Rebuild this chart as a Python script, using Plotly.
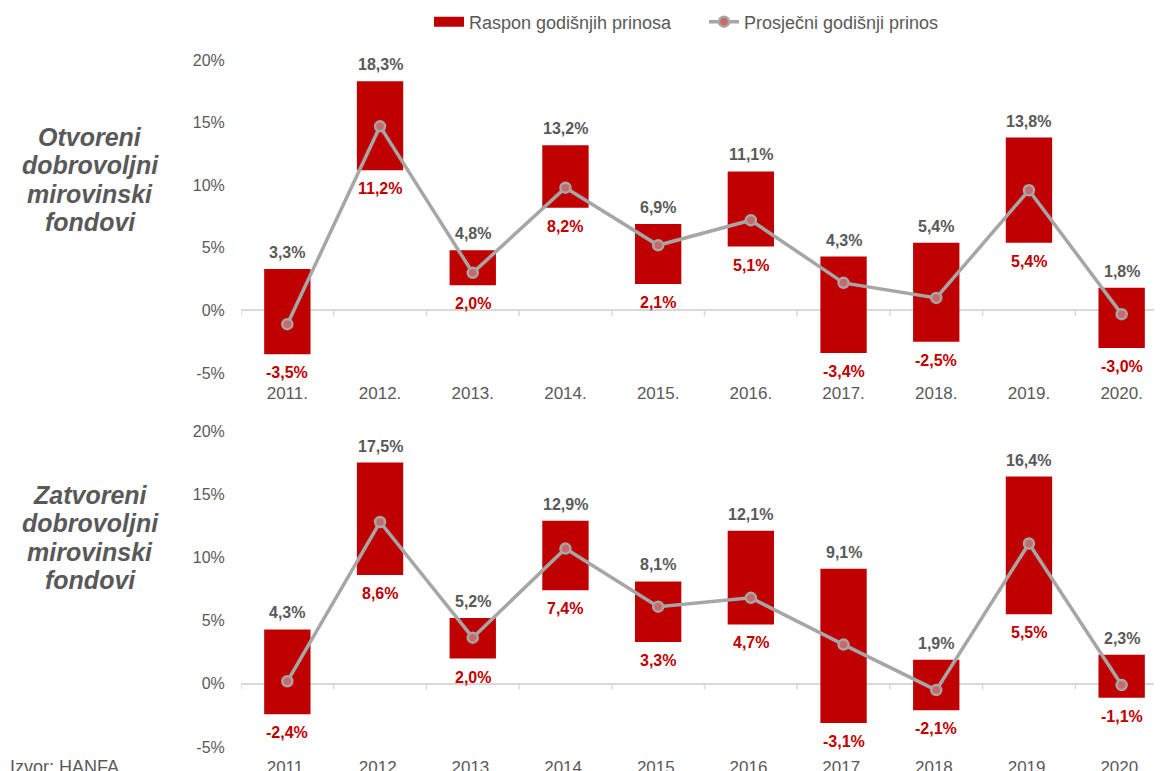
import plotly.graph_objects as go

years = ["2011.", "2012.", "2013.", "2014.", "2015.", "2016.", "2017.", "2018.", "2019.", "2020."]

open_max = [3.3, 18.3, 4.8, 13.2, 6.9, 11.1, 4.3, 5.4, 13.8, 1.8]
open_min = [-3.5, 11.2, 2.0, 8.2, 2.1, 5.1, -3.4, -2.5, 5.4, -3.0]
open_avg = [-1.1, 14.7, 3.0, 9.8, 5.2, 7.2, 2.2, 1.0, 9.6, -0.3]

closed_max = [4.3, 17.5, 5.2, 12.9, 8.1, 12.1, 9.1, 1.9, 16.4, 2.3]
closed_min = [-2.4, 8.6, 2.0, 7.4, 3.3, 4.7, -3.1, -2.1, 5.5, -1.1]
closed_avg = [0.2, 12.8, 3.65, 10.7, 6.1, 6.8, 3.1, -0.5, 11.1, -0.1]

y_ticks = [-5, 0, 5, 10, 15, 20]

panel_titles = [["Otvoreni", "dobrovoljni", "mirovinski", "fondovi"],
                ["Zatvoreni", "dobrovoljni", "mirovinski", "fondovi"]]

legend_bar = "Raspon godišnjih prinosa"
legend_line = "Prosječni godišnji prinos"
source_text = "Izvor: HANFA"

RED = "#C00000"
GRAY_LINE = "#A6A6A6"
TEXT_GRAY = "#595959"
FONT = "Liberation Sans, Arial, sans-serif"

# page body has an 8px margin: the figure starts at (8, 8) in the window
OFF = 8
W, H = 1162 - OFF, 771 - OFF


def px_x(v):
    return (v - OFF) / W


def px_y(v):
    return 1 - (v - OFF) / H


def fmt(v):
    return f"{v:.1f}".replace(".", ",") + "%"


fig = go.Figure()

panels = [
    (open_max, open_min, open_avg, "x", "y"),
    (closed_max, closed_min, closed_avg, "x2", "y2"),
]

# legend-only entries (wide red swatch like the original)
fig.add_trace(go.Scatter(x=[None], y=[None], mode="lines",
                         line=dict(color=RED, width=10), name=legend_bar))
fig.add_trace(go.Scatter(x=[None], y=[None], mode="lines+markers",
                         line=dict(color=GRAY_LINE, width=3.5),
                         marker=dict(symbol="circle", size=10, color="#C86A6A",
                                     line=dict(color=GRAY_LINE, width=2.5)),
                         name=legend_line))

for mx, mn, avg, xa, ya in panels:
    fig.add_trace(go.Bar(
        x=list(range(len(years))), y=[a - b for a, b in zip(mx, mn)], base=mn,
        width=0.5, marker=dict(color=RED, line=dict(width=0)),
        name=legend_bar, showlegend=False, xaxis=xa, yaxis=ya,
    ))
    fig.add_trace(go.Scatter(
        x=list(range(len(years))), y=avg, mode="lines+markers",
        line=dict(color=GRAY_LINE, width=3.5),
        marker=dict(symbol="circle", size=10, color="#C86A6A",
                    line=dict(color=GRAY_LINE, width=2.5)),
        name=legend_line, showlegend=False, xaxis=xa, yaxis=ya,
    ))

annotations = []
shapes = []
for (mx, mn, avg, xa, ya) in panels:
    for i in range(len(years)):
        annotations.append(dict(
            x=i, y=mx[i], xref=xa, yref=ya, text="<b>" + fmt(mx[i]) + "</b>",
            showarrow=False, yanchor="bottom", yshift=6,
            font=dict(family=FONT, size=16, color=TEXT_GRAY)))
        annotations.append(dict(
            x=i, y=mn[i], xref=xa, yref=ya, text="<b>" + fmt(mn[i]) + "</b>",
            showarrow=False, yanchor="top", yshift=-8,
            font=dict(family=FONT, size=16, color=RED)))
    # category boundary tick marks on the zero line
    for i in range(len(years)):
        shapes.append(dict(type="line", xref=xa, yref=ya,
                           x0=i - 0.5, x1=i - 0.5, y0=0, y1=-0.45,
                           line=dict(color="#D9D9D9", width=1.5)))

# panel titles, one line per annotation for tight line spacing
for lines, y_first in zip(panel_titles, [137, 495]):
    for k, line in enumerate(lines):
        annotations.append(dict(
            x=px_x(90), y=px_y(y_first + k * 28.4), xref="paper", yref="paper",
            xanchor="center", yanchor="middle",
            text="<b><i>" + line + "</i></b>", showarrow=False,
            font=dict(family=FONT, size=25, color=TEXT_GRAY)))

annotations.append(dict(
    x=px_x(8), y=px_y(767), xref="paper", yref="paper", xanchor="left", yanchor="middle",
    text=source_text, showarrow=False,
    font=dict(family=FONT, size=18, color=TEXT_GRAY)))

x_dom = [px_x(241), 1.0]
x_range = [-0.5, -0.5 + (1162 - 241) / 92.7]

axis_x = dict(
    domain=x_dom, range=x_range, tickmode="array",
    tickvals=list(range(len(years))), ticktext=years,
    showline=False, showgrid=False, zeroline=False,
    ticks="outside", ticklen=5, tickcolor="rgba(0,0,0,0)",
    tickfont=dict(family=FONT, size=17, color=TEXT_GRAY),
    automargin=False, fixedrange=True,
)
axis_y = dict(
    range=[-5, 20], tickvals=y_ticks, ticktext=[f"{v}%" for v in y_ticks],
    showgrid=False, showline=False, zeroline=True,
    zerolinecolor="#D9D9D9", zerolinewidth=1.5,
    ticks="outside", ticklen=12, tickcolor="rgba(0,0,0,0)",
    tickfont=dict(family=FONT, size=16, color=TEXT_GRAY),
    automargin=False, fixedrange=True,
)

fig.update_layout(
    width=W, height=H,
    margin=dict(l=0, r=0, t=0, b=0, autoexpand=False),
    paper_bgcolor="white", plot_bgcolor="white",
    barmode="overlay",
    xaxis=dict(axis_x, anchor="y"),
    yaxis=dict(axis_y, domain=[px_y(373), px_y(60)], anchor="x"),
    xaxis2=dict(axis_x, anchor="y2"),
    yaxis2=dict(axis_y, domain=[px_y(747), px_y(431)], anchor="x2"),
    legend=dict(orientation="h", x=px_x(429), y=px_y(22), xanchor="left", yanchor="middle",
                font=dict(family=FONT, size=18, color=TEXT_GRAY),
                entrywidth=230, entrywidthmode="pixels",
                tracegroupgap=0, bgcolor="rgba(0,0,0,0)"),
    annotations=annotations,
    shapes=shapes,
    showlegend=True,
)

fig.write_html("out.html")
